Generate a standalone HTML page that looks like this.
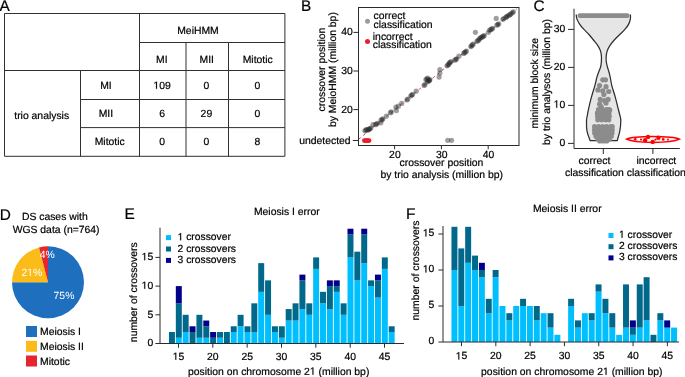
<!DOCTYPE html>
<html><head><meta charset="utf-8"><style>
html,body{margin:0;padding:0;background:#fff;}
body{width:685px;height:377px;overflow:hidden;}
svg{display:block;font-family:"Liberation Sans",sans-serif;will-change:transform;text-rendering:geometricPrecision;}
text{stroke-width:0.2px;}
</style></head><body>
<svg width="685" height="377" viewBox="0 0 685 377">
<rect width="685" height="377" fill="#fff"/>
<text x="-0.5" y="10.7" text-anchor="start" font-size="15.4" fill="#000" stroke="#000" >A</text>
<text x="301.0" y="10.8" text-anchor="start" font-size="15.4" fill="#000" stroke="#000" >B</text>
<text x="533.6" y="10.6" text-anchor="start" font-size="15.4" fill="#000" stroke="#000" >C</text>
<text x="-0.2" y="220.4" text-anchor="start" font-size="15.4" fill="#000" stroke="#000" >D</text>
<text x="124.6" y="219.1" text-anchor="start" font-size="15.4" fill="#000" stroke="#000" >E</text>
<text x="406.0" y="218.8" text-anchor="start" font-size="15.4" fill="#000" stroke="#000" >F</text>
<line x1="4.5" y1="13.5" x2="284.9" y2="13.5" stroke="#303030" stroke-width="1"/>
<line x1="4.5" y1="156.3" x2="284.9" y2="156.3" stroke="#303030" stroke-width="1"/>
<line x1="4.5" y1="13.5" x2="4.5" y2="156.3" stroke="#303030" stroke-width="1"/>
<line x1="284.9" y1="13.5" x2="284.9" y2="156.3" stroke="#303030" stroke-width="1"/>
<line x1="139.5" y1="42.5" x2="284.9" y2="42.5" stroke="#303030" stroke-width="1"/>
<line x1="4.5" y1="70.5" x2="284.9" y2="70.5" stroke="#303030" stroke-width="1"/>
<line x1="80.5" y1="99.5" x2="284.9" y2="99.5" stroke="#303030" stroke-width="1"/>
<line x1="80.5" y1="127.6" x2="284.9" y2="127.6" stroke="#303030" stroke-width="1"/>
<line x1="139.5" y1="13.5" x2="139.5" y2="156.3" stroke="#303030" stroke-width="1"/>
<line x1="80.5" y1="70.5" x2="80.5" y2="156.3" stroke="#303030" stroke-width="1"/>
<line x1="186.0" y1="42.5" x2="186.0" y2="156.3" stroke="#303030" stroke-width="1"/>
<line x1="228.5" y1="42.5" x2="228.5" y2="156.3" stroke="#303030" stroke-width="1"/>
<text x="198.0" y="33.85" text-anchor="middle" font-size="10.4" fill="#000" stroke="#000" >MeiHMM</text>
<text x="161.8" y="62.75" text-anchor="middle" font-size="10.4" fill="#000" stroke="#000" >MI</text>
<text x="206.8" y="62.75" text-anchor="middle" font-size="10.4" fill="#000" stroke="#000" >MII</text>
<text x="257.7" y="62.75" text-anchor="middle" font-size="10.4" fill="#000" stroke="#000" >Mitotic</text>
<text x="41.7" y="118.65" text-anchor="middle" font-size="10.4" fill="#000" stroke="#000" >trio analysis</text>
<text x="105.9" y="88.85" text-anchor="middle" font-size="10.4" fill="#000" stroke="#000" >MI</text>
<text x="162.1" y="88.85" text-anchor="middle" font-size="10.4" fill="#000" stroke="#000" > 09</text>
<text x="206.4" y="88.85" text-anchor="middle" font-size="10.4" fill="#000" stroke="#000" >0</text>
<text x="257.5" y="88.85" text-anchor="middle" font-size="10.4" fill="#000" stroke="#000" >0</text>
<text x="105.9" y="116.85" text-anchor="middle" font-size="10.4" fill="#000" stroke="#000" >MII</text>
<text x="162.1" y="116.85" text-anchor="middle" font-size="10.4" fill="#000" stroke="#000" >6</text>
<text x="206.4" y="116.85" text-anchor="middle" font-size="10.4" fill="#000" stroke="#000" >29</text>
<text x="257.5" y="116.85" text-anchor="middle" font-size="10.4" fill="#000" stroke="#000" >0</text>
<text x="109.7" y="145.25" text-anchor="middle" font-size="10.4" fill="#000" stroke="#000" >Mitotic</text>
<text x="162.1" y="145.25" text-anchor="middle" font-size="10.4" fill="#000" stroke="#000" >0</text>
<text x="206.4" y="145.25" text-anchor="middle" font-size="10.4" fill="#000" stroke="#000" >0</text>
<text x="257.5" y="145.25" text-anchor="middle" font-size="10.4" fill="#000" stroke="#000" >8</text>
<line x1="358.5" y1="139.37478632478633" x2="517.0" y2="8.64615384615388" stroke="#e0245a" stroke-width="1" stroke-dasharray="3 3" opacity="0.85"/>
<circle cx="364.9" cy="130.8" r="2.6" fill="#2a2a2a" fill-opacity="0.45"/>
<circle cx="365.8" cy="130.1" r="2.6" fill="#2a2a2a" fill-opacity="0.45"/>
<circle cx="366.7" cy="129.4" r="2.6" fill="#2a2a2a" fill-opacity="0.45"/>
<circle cx="367.7" cy="130.2" r="2.6" fill="#2a2a2a" fill-opacity="0.45"/>
<circle cx="368.6" cy="129.5" r="2.6" fill="#2a2a2a" fill-opacity="0.45"/>
<circle cx="369.5" cy="128.8" r="2.6" fill="#2a2a2a" fill-opacity="0.45"/>
<circle cx="369.9" cy="128.8" r="2.6" fill="#2a2a2a" fill-opacity="0.45"/>
<circle cx="370.8" cy="128.0" r="2.6" fill="#2a2a2a" fill-opacity="0.45"/>
<circle cx="373.0" cy="124.5" r="2.6" fill="#2a2a2a" fill-opacity="0.45"/>
<circle cx="375.5" cy="124.7" r="2.6" fill="#2a2a2a" fill-opacity="0.45"/>
<circle cx="376.4" cy="124.0" r="2.6" fill="#2a2a2a" fill-opacity="0.45"/>
<circle cx="377.3" cy="123.3" r="2.6" fill="#2a2a2a" fill-opacity="0.45"/>
<circle cx="380.8" cy="122.8" r="2.6" fill="#2a2a2a" fill-opacity="0.45"/>
<circle cx="381.1" cy="120.2" r="2.6" fill="#2a2a2a" fill-opacity="0.45"/>
<circle cx="382.0" cy="119.5" r="2.6" fill="#2a2a2a" fill-opacity="0.45"/>
<circle cx="382.9" cy="118.8" r="2.6" fill="#2a2a2a" fill-opacity="0.45"/>
<circle cx="386.4" cy="116.2" r="2.6" fill="#2a2a2a" fill-opacity="0.45"/>
<circle cx="390.4" cy="112.7" r="2.6" fill="#2a2a2a" fill-opacity="0.45"/>
<circle cx="391.3" cy="111.9" r="2.6" fill="#2a2a2a" fill-opacity="0.45"/>
<circle cx="395.9" cy="107.2" r="2.6" fill="#2a2a2a" fill-opacity="0.45"/>
<circle cx="396.4" cy="110.6" r="2.6" fill="#2a2a2a" fill-opacity="0.45"/>
<circle cx="398.4" cy="106.2" r="2.6" fill="#2a2a2a" fill-opacity="0.45"/>
<circle cx="401.7" cy="103.4" r="2.6" fill="#2a2a2a" fill-opacity="0.45"/>
<circle cx="406.9" cy="99.9" r="2.6" fill="#2a2a2a" fill-opacity="0.45"/>
<circle cx="407.8" cy="99.1" r="2.6" fill="#2a2a2a" fill-opacity="0.45"/>
<circle cx="410.8" cy="95.8" r="2.6" fill="#2a2a2a" fill-opacity="0.45"/>
<circle cx="411.7" cy="95.1" r="2.6" fill="#2a2a2a" fill-opacity="0.45"/>
<circle cx="412.6" cy="94.4" r="2.6" fill="#2a2a2a" fill-opacity="0.45"/>
<circle cx="416.2" cy="91.2" r="2.6" fill="#2a2a2a" fill-opacity="0.45"/>
<circle cx="424.1" cy="85.4" r="2.6" fill="#2a2a2a" fill-opacity="0.45"/>
<circle cx="424.9" cy="84.6" r="2.6" fill="#2a2a2a" fill-opacity="0.45"/>
<circle cx="425.9" cy="79.6" r="2.6" fill="#2a2a2a" fill-opacity="0.45"/>
<circle cx="426.8" cy="78.9" r="2.6" fill="#2a2a2a" fill-opacity="0.45"/>
<circle cx="427.7" cy="78.2" r="2.6" fill="#2a2a2a" fill-opacity="0.45"/>
<circle cx="427.5" cy="81.8" r="2.6" fill="#2a2a2a" fill-opacity="0.45"/>
<circle cx="428.4" cy="81.1" r="2.6" fill="#2a2a2a" fill-opacity="0.45"/>
<circle cx="429.3" cy="80.4" r="2.6" fill="#2a2a2a" fill-opacity="0.45"/>
<circle cx="429.1" cy="80.3" r="2.6" fill="#2a2a2a" fill-opacity="0.45"/>
<circle cx="429.9" cy="79.5" r="2.6" fill="#2a2a2a" fill-opacity="0.45"/>
<circle cx="439.9" cy="69.5" r="2.6" fill="#2a2a2a" fill-opacity="0.45"/>
<circle cx="439.9" cy="73.1" r="2.6" fill="#2a2a2a" fill-opacity="0.45"/>
<circle cx="439.1" cy="77.1" r="2.6" fill="#2a2a2a" fill-opacity="0.45"/>
<circle cx="447.0" cy="65.8" r="2.6" fill="#2a2a2a" fill-opacity="0.45"/>
<circle cx="447.9" cy="65.1" r="2.6" fill="#2a2a2a" fill-opacity="0.45"/>
<circle cx="448.8" cy="64.4" r="2.6" fill="#2a2a2a" fill-opacity="0.45"/>
<circle cx="449.2" cy="63.0" r="2.6" fill="#2a2a2a" fill-opacity="0.45"/>
<circle cx="450.1" cy="62.3" r="2.6" fill="#2a2a2a" fill-opacity="0.45"/>
<circle cx="451.0" cy="61.6" r="2.6" fill="#2a2a2a" fill-opacity="0.45"/>
<circle cx="454.8" cy="60.2" r="2.6" fill="#2a2a2a" fill-opacity="0.45"/>
<circle cx="455.7" cy="59.5" r="2.6" fill="#2a2a2a" fill-opacity="0.45"/>
<circle cx="456.6" cy="58.8" r="2.6" fill="#2a2a2a" fill-opacity="0.45"/>
<circle cx="458.9" cy="56.2" r="2.6" fill="#2a2a2a" fill-opacity="0.45"/>
<circle cx="463.6" cy="53.4" r="2.6" fill="#2a2a2a" fill-opacity="0.45"/>
<circle cx="464.6" cy="52.7" r="2.6" fill="#2a2a2a" fill-opacity="0.45"/>
<circle cx="465.4" cy="51.9" r="2.6" fill="#2a2a2a" fill-opacity="0.45"/>
<circle cx="466.4" cy="51.2" r="2.6" fill="#2a2a2a" fill-opacity="0.45"/>
<circle cx="470.8" cy="46.6" r="2.6" fill="#2a2a2a" fill-opacity="0.45"/>
<circle cx="471.6" cy="45.8" r="2.6" fill="#2a2a2a" fill-opacity="0.45"/>
<circle cx="472.4" cy="44.9" r="2.6" fill="#2a2a2a" fill-opacity="0.45"/>
<circle cx="473.2" cy="44.1" r="2.6" fill="#2a2a2a" fill-opacity="0.45"/>
<circle cx="475.4" cy="32.3" r="2.6" fill="#2a2a2a" fill-opacity="0.45"/>
<circle cx="477.0" cy="41.3" r="2.6" fill="#2a2a2a" fill-opacity="0.45"/>
<circle cx="477.9" cy="40.6" r="2.6" fill="#2a2a2a" fill-opacity="0.45"/>
<circle cx="478.8" cy="39.9" r="2.6" fill="#2a2a2a" fill-opacity="0.45"/>
<circle cx="479.7" cy="38.5" r="2.6" fill="#2a2a2a" fill-opacity="0.45"/>
<circle cx="480.6" cy="37.8" r="2.6" fill="#2a2a2a" fill-opacity="0.45"/>
<circle cx="481.5" cy="37.1" r="2.6" fill="#2a2a2a" fill-opacity="0.45"/>
<circle cx="482.5" cy="36.9" r="2.6" fill="#2a2a2a" fill-opacity="0.45"/>
<circle cx="483.4" cy="36.2" r="2.6" fill="#2a2a2a" fill-opacity="0.45"/>
<circle cx="484.3" cy="35.5" r="2.6" fill="#2a2a2a" fill-opacity="0.45"/>
<circle cx="488.4" cy="32.3" r="2.6" fill="#2a2a2a" fill-opacity="0.45"/>
<circle cx="489.6" cy="30.0" r="2.6" fill="#2a2a2a" fill-opacity="0.45"/>
<circle cx="490.8" cy="29.7" r="2.6" fill="#2a2a2a" fill-opacity="0.45"/>
<circle cx="491.7" cy="29.0" r="2.6" fill="#2a2a2a" fill-opacity="0.45"/>
<circle cx="492.6" cy="28.3" r="2.6" fill="#2a2a2a" fill-opacity="0.45"/>
<circle cx="496.2" cy="18.4" r="2.6" fill="#2a2a2a" fill-opacity="0.45"/>
<circle cx="496.9" cy="25.2" r="2.6" fill="#2a2a2a" fill-opacity="0.45"/>
<circle cx="497.8" cy="24.5" r="2.6" fill="#2a2a2a" fill-opacity="0.45"/>
<circle cx="498.7" cy="23.8" r="2.6" fill="#2a2a2a" fill-opacity="0.45"/>
<circle cx="502.9" cy="19.3" r="2.6" fill="#2a2a2a" fill-opacity="0.45"/>
<circle cx="503.8" cy="18.5" r="2.6" fill="#2a2a2a" fill-opacity="0.45"/>
<circle cx="505.8" cy="17.4" r="2.6" fill="#2a2a2a" fill-opacity="0.45"/>
<circle cx="506.7" cy="16.7" r="2.6" fill="#2a2a2a" fill-opacity="0.45"/>
<circle cx="507.6" cy="16.0" r="2.6" fill="#2a2a2a" fill-opacity="0.45"/>
<circle cx="509.2" cy="15.2" r="2.6" fill="#2a2a2a" fill-opacity="0.45"/>
<circle cx="510.1" cy="14.5" r="2.6" fill="#2a2a2a" fill-opacity="0.45"/>
<circle cx="511.0" cy="13.8" r="2.6" fill="#2a2a2a" fill-opacity="0.45"/>
<circle cx="512.4" cy="12.6" r="2.6" fill="#2a2a2a" fill-opacity="0.45"/>
<circle cx="513.4" cy="11.8" r="2.6" fill="#2a2a2a" fill-opacity="0.45"/>
<circle cx="447.7" cy="140.3" r="2.6" fill="#2a2a2a" fill-opacity="0.45"/>
<circle cx="451.5" cy="140.3" r="2.6" fill="#2a2a2a" fill-opacity="0.45"/>
<circle cx="364.4" cy="140.6" r="2.4" fill="#e8202a"/>
<circle cx="365.6" cy="140.6" r="2.4" fill="#e8202a"/>
<circle cx="366.7" cy="140.6" r="2.4" fill="#e8202a"/>
<circle cx="367.8" cy="140.6" r="2.4" fill="#e8202a"/>
<circle cx="369.0" cy="140.6" r="2.4" fill="#e8202a"/>
<rect x="358.5" y="7.5" width="160.5" height="138.0" fill="none" stroke="#2b2b2b" stroke-width="1"/>
<line x1="353.4" y1="32.39999999999999" x2="358.5" y2="32.39999999999999" stroke="#2b2b2b" stroke-width="1"/>
<text x="352.7" y="35.35" text-anchor="end" font-size="10.4" fill="#000" stroke="#000" >40</text>
<line x1="353.4" y1="71.0" x2="358.5" y2="71.0" stroke="#2b2b2b" stroke-width="1"/>
<text x="352.7" y="73.95" text-anchor="end" font-size="10.4" fill="#000" stroke="#000" >30</text>
<line x1="353.4" y1="109.6" x2="358.5" y2="109.6" stroke="#2b2b2b" stroke-width="1"/>
<text x="352.7" y="112.55" text-anchor="end" font-size="10.4" fill="#000" stroke="#000" >20</text>
<line x1="352.8" y1="140.5" x2="358.5" y2="140.5" stroke="#2b2b2b" stroke-width="1"/>
<text x="350.6" y="143.95" text-anchor="end" font-size="10.4" fill="#000" stroke="#000" >undetected</text>
<line x1="394.6" y1="145.5" x2="394.6" y2="149.3" stroke="#2b2b2b" stroke-width="1"/>
<text x="394.90000000000003" y="157.85" text-anchor="middle" font-size="10.4" fill="#000" stroke="#000" >20</text>
<line x1="441.40000000000003" y1="145.5" x2="441.40000000000003" y2="149.3" stroke="#2b2b2b" stroke-width="1"/>
<text x="441.70000000000005" y="157.85" text-anchor="middle" font-size="10.4" fill="#000" stroke="#000" >30</text>
<line x1="488.20000000000005" y1="145.5" x2="488.20000000000005" y2="149.3" stroke="#2b2b2b" stroke-width="1"/>
<text x="488.50000000000006" y="157.85" text-anchor="middle" font-size="10.4" fill="#000" stroke="#000" >40</text>
<text x="441.4" y="166.15" text-anchor="middle" font-size="10.4" fill="#000" stroke="#000" >crossover position</text>
<text x="441.7" y="178.05" text-anchor="middle" font-size="10.4" fill="#000" stroke="#000" >by trio analysis (million bp)</text>
<text transform="translate(324.7,69.6) rotate(-90)" text-anchor="middle" font-size="10.4" fill="#000" stroke="#000">crossover position</text>
<text transform="translate(336.1,69.6) rotate(-90)" text-anchor="middle" font-size="10.4" fill="#000" stroke="#000">by MeioHMM (million bp)</text>
<circle cx="367.5" cy="21.2" r="2.5" fill="#9a9a9a"/>
<circle cx="367.5" cy="41.5" r="2.5" fill="#e8202a"/>
<text x="373.6" y="19.05" text-anchor="start" font-size="10.4" fill="#000" stroke="#000" >correct</text>
<text x="373.6" y="27.85" text-anchor="start" font-size="10.4" fill="#000" stroke="#000" >classification</text>
<text x="372.8" y="39.75" text-anchor="start" font-size="10.4" fill="#000" stroke="#000" >incorrect</text>
<text x="372.8" y="48.15" text-anchor="start" font-size="10.4" fill="#000" stroke="#000" >classification</text>
<path d="M576.2,14.5 C576.30,15.18 576.27,17.03 576.80,18.60 C577.33,20.17 578.25,22.13 579.40,23.90 C580.55,25.67 582.10,27.43 583.70,29.20 C585.30,30.97 587.37,32.70 589.00,34.50 C590.63,36.30 592.05,38.20 593.50,40.00 C594.95,41.80 596.55,43.53 597.70,45.30 C598.85,47.07 599.78,48.83 600.40,50.60 C601.02,52.37 601.23,54.13 601.40,55.90 C601.57,57.67 601.52,59.43 601.40,61.20 C601.28,62.97 601.13,64.73 600.70,66.50 C600.27,68.27 599.43,70.03 598.80,71.80 C598.17,73.57 597.55,74.80 596.90,77.10 C596.25,79.40 595.77,82.42 594.90,85.60 C594.03,88.78 592.68,92.67 591.70,96.20 C590.72,99.73 589.72,103.67 589.00,106.80 C588.28,109.93 587.82,112.70 587.40,115.00 C586.98,117.30 586.57,117.90 586.50,120.60 C586.43,123.30 586.40,127.88 587.00,131.20 C587.60,134.52 589.58,138.95 590.10,140.50 L617.2,140.5 C617.63,138.95 619.20,134.52 619.80,131.20 C620.40,127.88 620.80,123.30 620.80,120.60 C620.80,117.90 620.32,117.30 619.80,115.00 C619.28,112.70 618.50,109.93 617.70,106.80 C616.90,103.67 615.98,99.73 615.00,96.20 C614.02,92.67 612.60,88.78 611.80,85.60 C611.00,82.42 610.68,79.40 610.20,77.10 C609.72,74.80 609.38,73.57 608.90,71.80 C608.42,70.03 607.75,68.27 607.30,66.50 C606.85,64.73 606.38,62.97 606.20,61.20 C606.02,59.43 606.02,57.67 606.20,55.90 C606.38,54.13 606.67,52.37 607.30,50.60 C607.93,48.83 608.83,47.07 610.00,45.30 C611.17,43.53 612.67,41.80 614.30,40.00 C615.93,38.20 618.00,36.30 619.80,34.50 C621.60,32.70 623.60,30.97 625.10,29.20 C626.60,27.43 627.92,25.67 628.80,23.90 C629.68,22.13 630.13,20.17 630.40,18.60 C630.67,17.03 630.40,15.18 630.40,14.50 Z" fill="#e6e6e6" stroke="none"/>
<path d="M576.2,14.5 C576.30,15.18 576.27,17.03 576.80,18.60 C577.33,20.17 578.25,22.13 579.40,23.90 C580.55,25.67 582.10,27.43 583.70,29.20 C585.30,30.97 587.37,32.70 589.00,34.50 C590.63,36.30 592.05,38.20 593.50,40.00 C594.95,41.80 596.55,43.53 597.70,45.30 C598.85,47.07 599.78,48.83 600.40,50.60 C601.02,52.37 601.23,54.13 601.40,55.90 C601.57,57.67 601.52,59.43 601.40,61.20 C601.28,62.97 601.13,64.73 600.70,66.50 C600.27,68.27 599.43,70.03 598.80,71.80 C598.17,73.57 597.55,74.80 596.90,77.10 C596.25,79.40 595.77,82.42 594.90,85.60 C594.03,88.78 592.68,92.67 591.70,96.20 C590.72,99.73 589.72,103.67 589.00,106.80 C588.28,109.93 587.82,112.70 587.40,115.00 C586.98,117.30 586.57,117.90 586.50,120.60 C586.43,123.30 586.40,127.88 587.00,131.20 C587.60,134.52 589.58,138.95 590.10,140.50 L617.2,140.5 C617.63,138.95 619.20,134.52 619.80,131.20 C620.40,127.88 620.80,123.30 620.80,120.60 C620.80,117.90 620.32,117.30 619.80,115.00 C619.28,112.70 618.50,109.93 617.70,106.80 C616.90,103.67 615.98,99.73 615.00,96.20 C614.02,92.67 612.60,88.78 611.80,85.60 C611.00,82.42 610.68,79.40 610.20,77.10 C609.72,74.80 609.38,73.57 608.90,71.80 C608.42,70.03 607.75,68.27 607.30,66.50 C606.85,64.73 606.38,62.97 606.20,61.20 C606.02,59.43 606.02,57.67 606.20,55.90 C606.38,54.13 606.67,52.37 607.30,50.60 C607.93,48.83 608.83,47.07 610.00,45.30 C611.17,43.53 612.67,41.80 614.30,40.00 C615.93,38.20 618.00,36.30 619.80,34.50 C621.60,32.70 623.60,30.97 625.10,29.20 C626.60,27.43 627.92,25.67 628.80,23.90 C629.68,22.13 630.13,20.17 630.40,18.60 C630.67,17.03 630.40,15.18 630.40,14.50" fill="none" stroke="#2e2e2e" stroke-width="1.25"/>
<rect x="577.6" y="13.3" width="51.9" height="4.7" rx="2.3" fill="#8c8c8c"/>
<circle cx="602.8" cy="79.8" r="2.6" fill="#8c8c8c"/>
<circle cx="605.5" cy="79.8" r="2.6" fill="#8c8c8c"/>
<circle cx="599.6" cy="85.6" r="2.6" fill="#8c8c8c"/>
<circle cx="606" cy="86.7" r="2.6" fill="#8c8c8c"/>
<circle cx="598" cy="89.9" r="2.6" fill="#8c8c8c"/>
<circle cx="602.8" cy="90.9" r="2.6" fill="#8c8c8c"/>
<circle cx="608.7" cy="91.5" r="2.6" fill="#8c8c8c"/>
<circle cx="603.9" cy="94.6" r="2.6" fill="#8c8c8c"/>
<circle cx="600.2" cy="99.4" r="2.6" fill="#8c8c8c"/>
<circle cx="608.1" cy="99.4" r="2.6" fill="#8c8c8c"/>
<circle cx="604.4" cy="100.5" r="2.6" fill="#8c8c8c"/>
<circle cx="599.6" cy="104.2" r="2.6" fill="#8c8c8c"/>
<circle cx="606" cy="103.1" r="2.6" fill="#8c8c8c"/>
<circle cx="601.2" cy="106.8" r="2.6" fill="#8c8c8c"/>
<circle cx="598.6" cy="110" r="2.6" fill="#8c8c8c"/>
<circle cx="609.7" cy="110" r="2.6" fill="#8c8c8c"/>
<circle cx="603.4" cy="110" r="2.6" fill="#8c8c8c"/>
<circle cx="597.5" cy="113.2" r="2.6" fill="#8c8c8c"/>
<circle cx="606.5" cy="112.7" r="2.6" fill="#8c8c8c"/>
<circle cx="598.5" cy="109.5" r="2.6" fill="#8c8c8c"/>
<circle cx="602.5" cy="109.5" r="2.6" fill="#8c8c8c"/>
<circle cx="606.5" cy="109.5" r="2.6" fill="#8c8c8c"/>
<circle cx="609" cy="109.5" r="2.6" fill="#8c8c8c"/>
<circle cx="597.5" cy="113" r="2.6" fill="#8c8c8c"/>
<circle cx="601.5" cy="113" r="2.6" fill="#8c8c8c"/>
<circle cx="605.5" cy="113" r="2.6" fill="#8c8c8c"/>
<circle cx="609" cy="113" r="2.6" fill="#8c8c8c"/>
<circle cx="597.6" cy="116.3" r="2.6" fill="#8c8c8c"/>
<circle cx="601.6" cy="116.3" r="2.6" fill="#8c8c8c"/>
<circle cx="605.6" cy="116.3" r="2.6" fill="#8c8c8c"/>
<circle cx="609.2" cy="116.3" r="2.6" fill="#8c8c8c"/>
<circle cx="597.8" cy="119.8" r="2.6" fill="#8c8c8c"/>
<circle cx="601.8" cy="119.8" r="2.6" fill="#8c8c8c"/>
<circle cx="605.8" cy="119.8" r="2.6" fill="#8c8c8c"/>
<circle cx="608.8" cy="119.8" r="2.6" fill="#8c8c8c"/>
<circle cx="594.6" cy="126.6" r="2.6" fill="#8c8c8c"/>
<circle cx="598.6" cy="126.6" r="2.6" fill="#8c8c8c"/>
<circle cx="602.6" cy="126.6" r="2.6" fill="#8c8c8c"/>
<circle cx="606.6" cy="126.6" r="2.6" fill="#8c8c8c"/>
<circle cx="610.6" cy="126.6" r="2.6" fill="#8c8c8c"/>
<circle cx="612.2" cy="126.6" r="2.6" fill="#8c8c8c"/>
<circle cx="594.5" cy="129.8" r="2.6" fill="#8c8c8c"/>
<circle cx="598.5" cy="129.8" r="2.6" fill="#8c8c8c"/>
<circle cx="602.5" cy="129.8" r="2.6" fill="#8c8c8c"/>
<circle cx="606.5" cy="129.8" r="2.6" fill="#8c8c8c"/>
<circle cx="610.5" cy="129.8" r="2.6" fill="#8c8c8c"/>
<circle cx="612.2" cy="129.8" r="2.6" fill="#8c8c8c"/>
<circle cx="594.7" cy="133" r="2.6" fill="#8c8c8c"/>
<circle cx="598.5" cy="133" r="2.6" fill="#8c8c8c"/>
<circle cx="602.5" cy="133" r="2.6" fill="#8c8c8c"/>
<circle cx="606.5" cy="133" r="2.6" fill="#8c8c8c"/>
<circle cx="610.5" cy="133" r="2.6" fill="#8c8c8c"/>
<circle cx="612.0" cy="133" r="2.6" fill="#8c8c8c"/>
<circle cx="596" cy="136.2" r="2.6" fill="#8c8c8c"/>
<circle cx="600" cy="136.2" r="2.6" fill="#8c8c8c"/>
<circle cx="604" cy="136.2" r="2.6" fill="#8c8c8c"/>
<circle cx="608" cy="136.2" r="2.6" fill="#8c8c8c"/>
<circle cx="611.2" cy="136.2" r="2.6" fill="#8c8c8c"/>
<circle cx="598" cy="139.2" r="2.6" fill="#8c8c8c"/>
<circle cx="602" cy="139.2" r="2.6" fill="#8c8c8c"/>
<circle cx="606" cy="139.2" r="2.6" fill="#8c8c8c"/>
<circle cx="609.3" cy="139.2" r="2.6" fill="#8c8c8c"/>
<circle cx="599.8" cy="141.0" r="2.6" fill="#8c8c8c"/>
<circle cx="603.2" cy="141.0" r="2.6" fill="#8c8c8c"/>
<circle cx="606.7" cy="141.0" r="2.6" fill="#8c8c8c"/>
<path d="M626.5,139.2 C631.5,136.9 640,136.6 652.9,136.6 C666,136.6 674.5,136.9 679.5,139.2 C674.5,141.7 666,142.4 652.9,142.4 C640,142.4 631.5,141.7 626.5,139.2 Z" fill="#fff4f4" stroke="#f00" stroke-width="1.5"/>
<circle cx="648" cy="136.9" r="2.2" fill="#f00"/>
<circle cx="645.1" cy="140.2" r="2.2" fill="#f00"/>
<circle cx="652.7" cy="141.9" r="2.2" fill="#f00"/>
<circle cx="658.4" cy="137.8" r="2.2" fill="#f00"/>
<circle cx="635.2" cy="139.2" r="1.3" fill="#f00"/>
<circle cx="663.2" cy="139.4" r="1.4" fill="#f00"/>
<circle cx="641" cy="139.5" r="1.1" fill="#f00"/>
<circle cx="655.5" cy="139.6" r="1.1" fill="#f00"/>
<circle cx="668" cy="139.6" r="1.0" fill="#f00"/>
<line x1="574.0" y1="8.7" x2="574.0" y2="148.5" stroke="#2b2b2b" stroke-width="1"/>
<line x1="574.0" y1="148.5" x2="679.8" y2="148.5" stroke="#2b2b2b" stroke-width="1"/>
<line x1="568.0" y1="143.4" x2="574.0" y2="143.4" stroke="#2b2b2b" stroke-width="1"/>
<text x="565.2" y="145.65" text-anchor="end" font-size="10.4" fill="#000" stroke="#000" >0</text>
<line x1="568.0" y1="105.4" x2="574.0" y2="105.4" stroke="#2b2b2b" stroke-width="1"/>
<text x="565.2" y="107.65" text-anchor="end" font-size="10.4" fill="#000" stroke="#000" > 0</text>
<line x1="568.0" y1="67.4" x2="574.0" y2="67.4" stroke="#2b2b2b" stroke-width="1"/>
<text x="565.2" y="69.65" text-anchor="end" font-size="10.4" fill="#000" stroke="#000" >20</text>
<line x1="568.0" y1="29.400000000000006" x2="574.0" y2="29.400000000000006" stroke="#2b2b2b" stroke-width="1"/>
<text x="565.2" y="31.65" text-anchor="end" font-size="10.4" fill="#000" stroke="#000" >30</text>
<line x1="603.3" y1="148.5" x2="603.3" y2="154.0" stroke="#2b2b2b" stroke-width="1"/>
<line x1="652.9" y1="148.5" x2="652.9" y2="154.0" stroke="#2b2b2b" stroke-width="1"/>
<text x="594.4" y="163.95" text-anchor="middle" font-size="10.4" fill="#000" stroke="#000" >correct</text>
<text x="594.4" y="175.65" text-anchor="middle" font-size="10.4" fill="#000" stroke="#000" >classification</text>
<text x="656.3" y="163.95" text-anchor="middle" font-size="10.4" fill="#000" stroke="#000" >incorrect</text>
<text x="656.3" y="175.65" text-anchor="middle" font-size="10.4" fill="#000" stroke="#000" >classification</text>
<text transform="translate(537.6,83.2) rotate(-90)" text-anchor="middle" font-size="10.4" fill="#000" stroke="#000">minimum block size</text>
<text transform="translate(550.1,82.0) rotate(-90)" text-anchor="middle" font-size="10.4" fill="#000" stroke="#000">by trio analysos (million bp)</text>
<text x="54.8" y="220.35" text-anchor="middle" font-size="10.4" fill="#000" stroke="#000" >DS cases with</text>
<text x="56.1" y="232.75" text-anchor="middle" font-size="10.4" fill="#000" stroke="#000" >WGS data (n=764)</text>
<path d="M48.0,282.3 L48.00,246.30 A36.0,36.0 0 1 1 12.00,282.30 Z" fill="#1e6fbd"/>
<path d="M48.0,282.3 L12.00,282.30 A36.0,36.0 0 0 1 39.05,247.43 Z" fill="#fbbc1a"/>
<path d="M48.0,282.3 L39.05,247.43 A36.0,36.0 0 0 1 48.00,246.30 Z" fill="#e5262c"/>
<text x="47.3" y="257.55" text-anchor="middle" font-size="10.4" fill="#fff" >4%</text>
<text x="31.8" y="275.95" text-anchor="middle" font-size="10.4" fill="#fff" >2 %</text>
<text x="64.0" y="298.75" text-anchor="middle" font-size="10.4" fill="#fff" >75%</text>
<rect x="26" y="326.0" width="11" height="11" fill="#1e6fbd"/>
<text x="40.0" y="335.15" text-anchor="start" font-size="10.4" fill="#000" stroke="#000" >Meiosis I</text>
<rect x="26" y="340.8" width="11" height="11" fill="#fbbc1a"/>
<text x="40.0" y="349.95" text-anchor="start" font-size="10.4" fill="#000" stroke="#000" >Meiosis II</text>
<rect x="26" y="355.5" width="11" height="11" fill="#e5262c"/>
<text x="40.0" y="364.65" text-anchor="start" font-size="10.4" fill="#000" stroke="#000" >Mitotic</text>
<rect x="168.95" y="332.02" width="5.97" height="11.48" fill="#00688b"/>
<rect x="175.82" y="337.76" width="5.97" height="5.74" fill="#00bfff"/>
<rect x="175.82" y="303.32" width="5.97" height="34.44" fill="#00688b"/>
<rect x="175.82" y="286.10" width="5.97" height="17.22" fill="#00008b"/>
<rect x="182.68" y="332.02" width="5.97" height="11.48" fill="#00bfff"/>
<rect x="182.68" y="314.80" width="5.97" height="17.22" fill="#00688b"/>
<rect x="189.55" y="332.02" width="5.97" height="11.48" fill="#00688b"/>
<rect x="189.55" y="326.28" width="5.97" height="5.74" fill="#00008b"/>
<rect x="196.42" y="337.76" width="5.97" height="5.74" fill="#00bfff"/>
<rect x="196.42" y="314.80" width="5.97" height="22.96" fill="#00688b"/>
<rect x="203.28" y="337.76" width="5.97" height="5.74" fill="#00bfff"/>
<rect x="203.28" y="326.28" width="5.97" height="11.48" fill="#00688b"/>
<rect x="203.28" y="320.54" width="5.97" height="5.74" fill="#00008b"/>
<rect x="210.15" y="337.76" width="5.97" height="5.74" fill="#00688b"/>
<rect x="210.15" y="332.02" width="5.97" height="5.74" fill="#00008b"/>
<rect x="217.02" y="337.76" width="5.97" height="5.74" fill="#00bfff"/>
<rect x="217.02" y="332.02" width="5.97" height="5.74" fill="#00688b"/>
<rect x="223.89" y="332.02" width="5.97" height="11.48" fill="#00688b"/>
<rect x="230.75" y="332.02" width="5.97" height="11.48" fill="#00bfff"/>
<rect x="230.75" y="326.28" width="5.97" height="5.74" fill="#00688b"/>
<rect x="237.62" y="326.28" width="5.97" height="17.22" fill="#00bfff"/>
<rect x="237.62" y="314.80" width="5.97" height="11.48" fill="#00688b"/>
<rect x="244.49" y="332.02" width="5.97" height="11.48" fill="#00bfff"/>
<rect x="244.49" y="326.28" width="5.97" height="5.74" fill="#00688b"/>
<rect x="251.35" y="332.02" width="5.97" height="11.48" fill="#00bfff"/>
<rect x="251.35" y="303.32" width="5.97" height="28.70" fill="#00688b"/>
<rect x="258.22" y="291.84" width="5.97" height="51.66" fill="#00bfff"/>
<rect x="258.22" y="263.14" width="5.97" height="28.70" fill="#00688b"/>
<rect x="265.09" y="314.80" width="5.97" height="28.70" fill="#00bfff"/>
<rect x="265.09" y="280.36" width="5.97" height="34.44" fill="#00688b"/>
<rect x="271.95" y="332.02" width="5.97" height="11.48" fill="#00bfff"/>
<rect x="271.95" y="326.28" width="5.97" height="5.74" fill="#00688b"/>
<rect x="278.82" y="337.76" width="5.97" height="5.74" fill="#00bfff"/>
<rect x="278.82" y="326.28" width="5.97" height="11.48" fill="#00688b"/>
<rect x="285.69" y="320.54" width="5.97" height="22.96" fill="#00bfff"/>
<rect x="285.69" y="309.06" width="5.97" height="11.48" fill="#00688b"/>
<rect x="292.56" y="320.54" width="5.97" height="22.96" fill="#00bfff"/>
<rect x="292.56" y="303.32" width="5.97" height="17.22" fill="#00688b"/>
<rect x="299.42" y="309.06" width="5.97" height="34.44" fill="#00bfff"/>
<rect x="299.42" y="280.36" width="5.97" height="28.70" fill="#00688b"/>
<rect x="299.42" y="274.62" width="5.97" height="5.74" fill="#00008b"/>
<rect x="306.29" y="314.80" width="5.97" height="28.70" fill="#00bfff"/>
<rect x="306.29" y="303.32" width="5.97" height="11.48" fill="#00688b"/>
<rect x="313.16" y="268.88" width="5.97" height="74.62" fill="#00bfff"/>
<rect x="313.16" y="257.40" width="5.97" height="11.48" fill="#00688b"/>
<rect x="320.02" y="303.32" width="5.97" height="40.18" fill="#00bfff"/>
<rect x="320.02" y="291.84" width="5.97" height="11.48" fill="#00688b"/>
<rect x="326.89" y="309.06" width="5.97" height="34.44" fill="#00bfff"/>
<rect x="326.89" y="286.10" width="5.97" height="22.96" fill="#00688b"/>
<rect x="326.89" y="280.36" width="5.97" height="5.74" fill="#00008b"/>
<rect x="333.76" y="291.84" width="5.97" height="51.66" fill="#00bfff"/>
<rect x="333.76" y="286.10" width="5.97" height="5.74" fill="#00688b"/>
<rect x="333.76" y="280.36" width="5.97" height="5.74" fill="#00008b"/>
<rect x="340.62" y="314.80" width="5.97" height="28.70" fill="#00bfff"/>
<rect x="340.62" y="303.32" width="5.97" height="11.48" fill="#00688b"/>
<rect x="347.49" y="257.40" width="5.97" height="86.10" fill="#00bfff"/>
<rect x="347.49" y="234.44" width="5.97" height="22.96" fill="#00688b"/>
<rect x="347.49" y="228.70" width="5.97" height="5.74" fill="#00008b"/>
<rect x="354.36" y="280.36" width="5.97" height="63.14" fill="#00bfff"/>
<rect x="354.36" y="251.66" width="5.97" height="28.70" fill="#00688b"/>
<rect x="361.23" y="263.14" width="5.97" height="80.36" fill="#00bfff"/>
<rect x="361.23" y="234.44" width="5.97" height="28.70" fill="#00688b"/>
<rect x="361.23" y="228.70" width="5.97" height="5.74" fill="#00008b"/>
<rect x="368.09" y="286.10" width="5.97" height="57.40" fill="#00bfff"/>
<rect x="368.09" y="280.36" width="5.97" height="5.74" fill="#00688b"/>
<rect x="374.96" y="297.58" width="5.97" height="45.92" fill="#00bfff"/>
<rect x="374.96" y="280.36" width="5.97" height="17.22" fill="#00688b"/>
<rect x="374.96" y="274.62" width="5.97" height="5.74" fill="#00008b"/>
<rect x="381.83" y="268.88" width="5.97" height="74.62" fill="#00bfff"/>
<rect x="381.83" y="257.40" width="5.97" height="11.48" fill="#00688b"/>
<rect x="388.69" y="332.02" width="5.97" height="11.48" fill="#00bfff"/>
<rect x="388.69" y="326.28" width="5.97" height="5.74" fill="#00688b"/>
<line x1="160.0" y1="227.7" x2="160.0" y2="343.5" stroke="#2b2b2b" stroke-width="1"/>
<line x1="155.4" y1="343.5" x2="404.0" y2="343.5" stroke="#2b2b2b" stroke-width="1"/>
<line x1="155.4" y1="314.8" x2="160.0" y2="314.8" stroke="#2b2b2b" stroke-width="1"/>
<line x1="155.4" y1="286.1" x2="160.0" y2="286.1" stroke="#2b2b2b" stroke-width="1"/>
<line x1="155.4" y1="257.4" x2="160.0" y2="257.4" stroke="#2b2b2b" stroke-width="1"/>
<text x="153.2" y="346.25" text-anchor="end" font-size="10.4" fill="#000" stroke="#000" >0</text>
<text x="153.2" y="317.55" text-anchor="end" font-size="10.4" fill="#000" stroke="#000" >5</text>
<text x="153.2" y="288.85" text-anchor="end" font-size="10.4" fill="#000" stroke="#000" > 0</text>
<text x="153.2" y="260.15" text-anchor="end" font-size="10.4" fill="#000" stroke="#000" > 5</text>
<line x1="178.5" y1="343.5" x2="178.5" y2="347.7" stroke="#2b2b2b" stroke-width="1"/>
<text x="178.5" y="359.85" text-anchor="middle" font-size="10.4" fill="#000" stroke="#000" > 5</text>
<line x1="212.835" y1="343.5" x2="212.835" y2="347.7" stroke="#2b2b2b" stroke-width="1"/>
<text x="212.835" y="359.85" text-anchor="middle" font-size="10.4" fill="#000" stroke="#000" >20</text>
<line x1="247.17000000000002" y1="343.5" x2="247.17000000000002" y2="347.7" stroke="#2b2b2b" stroke-width="1"/>
<text x="247.17000000000002" y="359.85" text-anchor="middle" font-size="10.4" fill="#000" stroke="#000" >25</text>
<line x1="281.505" y1="343.5" x2="281.505" y2="347.7" stroke="#2b2b2b" stroke-width="1"/>
<text x="281.505" y="359.85" text-anchor="middle" font-size="10.4" fill="#000" stroke="#000" >30</text>
<line x1="315.84000000000003" y1="343.5" x2="315.84000000000003" y2="347.7" stroke="#2b2b2b" stroke-width="1"/>
<text x="315.84000000000003" y="359.85" text-anchor="middle" font-size="10.4" fill="#000" stroke="#000" >35</text>
<line x1="350.175" y1="343.5" x2="350.175" y2="347.7" stroke="#2b2b2b" stroke-width="1"/>
<text x="350.175" y="359.85" text-anchor="middle" font-size="10.4" fill="#000" stroke="#000" >40</text>
<line x1="384.51" y1="343.5" x2="384.51" y2="347.7" stroke="#2b2b2b" stroke-width="1"/>
<text x="384.51" y="359.85" text-anchor="middle" font-size="10.4" fill="#000" stroke="#000" >45</text>
<text x="253.9" y="214.55" text-anchor="start" font-size="10.4" fill="#000" stroke="#000" >Meiosis I error</text>
<rect x="166.0" y="235.10" width="5" height="5" fill="#00bfff"/>
<text x="177.6" y="240.35" text-anchor="start" font-size="10.3" fill="#000" stroke="#000" >  crossover</text>
<rect x="166.0" y="246.50" width="5" height="5" fill="#00688b"/>
<text x="177.6" y="251.75" text-anchor="start" font-size="10.3" fill="#000" stroke="#000" >2 crossovers</text>
<rect x="166.0" y="257.90" width="5" height="5" fill="#00008b"/>
<text x="177.6" y="263.15" text-anchor="start" font-size="10.3" fill="#000" stroke="#000" >3 crossovers</text>
<text transform="translate(137.3,292.2) rotate(-90)" text-anchor="middle" font-size="10.4" fill="#000" stroke="#000">number of crossovers</text>
<text x="188.0" y="374.65" text-anchor="start" font-size="10.4" fill="#000" stroke="#000" >position on chromosome 2  (million bp)</text>
<rect x="451.46" y="270.00" width="5.96" height="72.00" fill="#00bfff"/>
<rect x="451.46" y="226.80" width="5.96" height="43.20" fill="#00688b"/>
<rect x="458.32" y="306.00" width="5.96" height="36.00" fill="#00bfff"/>
<rect x="458.32" y="248.40" width="5.96" height="57.60" fill="#00688b"/>
<rect x="465.18" y="262.80" width="5.96" height="79.20" fill="#00bfff"/>
<rect x="465.18" y="226.80" width="5.96" height="36.00" fill="#00688b"/>
<rect x="472.04" y="270.00" width="5.96" height="72.00" fill="#00bfff"/>
<rect x="472.04" y="255.60" width="5.96" height="14.40" fill="#00688b"/>
<rect x="478.91" y="277.20" width="5.96" height="64.80" fill="#00bfff"/>
<rect x="478.91" y="270.00" width="5.96" height="7.20" fill="#00688b"/>
<rect x="478.91" y="262.80" width="5.96" height="7.20" fill="#00008b"/>
<rect x="485.77" y="313.20" width="5.96" height="28.80" fill="#00bfff"/>
<rect x="485.77" y="298.80" width="5.96" height="14.40" fill="#00688b"/>
<rect x="492.63" y="277.20" width="5.96" height="64.80" fill="#00bfff"/>
<rect x="492.63" y="270.00" width="5.96" height="7.20" fill="#00688b"/>
<rect x="499.50" y="306.00" width="5.96" height="36.00" fill="#00bfff"/>
<rect x="506.36" y="320.40" width="5.96" height="21.60" fill="#00bfff"/>
<rect x="506.36" y="313.20" width="5.96" height="7.20" fill="#00688b"/>
<rect x="513.22" y="306.00" width="5.96" height="36.00" fill="#00bfff"/>
<rect x="520.09" y="306.00" width="5.96" height="36.00" fill="#00bfff"/>
<rect x="520.09" y="298.80" width="5.96" height="7.20" fill="#00688b"/>
<rect x="526.95" y="306.00" width="5.96" height="36.00" fill="#00bfff"/>
<rect x="533.81" y="320.40" width="5.96" height="21.60" fill="#00bfff"/>
<rect x="533.81" y="306.00" width="5.96" height="14.40" fill="#00688b"/>
<rect x="540.67" y="313.20" width="5.96" height="28.80" fill="#00bfff"/>
<rect x="547.54" y="327.60" width="5.96" height="14.40" fill="#00bfff"/>
<rect x="547.54" y="313.20" width="5.96" height="14.40" fill="#00688b"/>
<rect x="554.40" y="334.80" width="5.96" height="7.20" fill="#00bfff"/>
<rect x="568.13" y="306.00" width="5.96" height="36.00" fill="#00bfff"/>
<rect x="568.13" y="298.80" width="5.96" height="7.20" fill="#00688b"/>
<rect x="574.99" y="327.60" width="5.96" height="14.40" fill="#00bfff"/>
<rect x="574.99" y="320.40" width="5.96" height="7.20" fill="#00688b"/>
<rect x="581.85" y="313.20" width="5.96" height="28.80" fill="#00bfff"/>
<rect x="588.72" y="320.40" width="5.96" height="21.60" fill="#00bfff"/>
<rect x="588.72" y="313.20" width="5.96" height="7.20" fill="#00688b"/>
<rect x="595.58" y="291.60" width="5.96" height="50.40" fill="#00bfff"/>
<rect x="595.58" y="284.40" width="5.96" height="7.20" fill="#00688b"/>
<rect x="602.44" y="313.20" width="5.96" height="28.80" fill="#00bfff"/>
<rect x="602.44" y="298.80" width="5.96" height="14.40" fill="#00688b"/>
<rect x="609.30" y="327.60" width="5.96" height="14.40" fill="#00bfff"/>
<rect x="609.30" y="313.20" width="5.96" height="14.40" fill="#00688b"/>
<rect x="616.17" y="334.80" width="5.96" height="7.20" fill="#00bfff"/>
<rect x="623.03" y="327.60" width="5.96" height="14.40" fill="#00bfff"/>
<rect x="623.03" y="284.40" width="5.96" height="43.20" fill="#00688b"/>
<rect x="629.89" y="334.80" width="5.96" height="7.20" fill="#00bfff"/>
<rect x="629.89" y="327.60" width="5.96" height="7.20" fill="#00688b"/>
<rect x="629.89" y="320.40" width="5.96" height="7.20" fill="#00008b"/>
<rect x="636.76" y="327.60" width="5.96" height="14.40" fill="#00bfff"/>
<rect x="636.76" y="284.40" width="5.96" height="43.20" fill="#00688b"/>
<rect x="643.62" y="320.40" width="5.96" height="21.60" fill="#00bfff"/>
<rect x="643.62" y="277.20" width="5.96" height="43.20" fill="#00688b"/>
<rect x="650.48" y="334.80" width="5.96" height="7.20" fill="#00688b"/>
<rect x="657.35" y="320.40" width="5.96" height="21.60" fill="#00bfff"/>
<rect x="657.35" y="313.20" width="5.96" height="7.20" fill="#00688b"/>
<rect x="664.21" y="327.60" width="5.96" height="14.40" fill="#00bfff"/>
<rect x="664.21" y="320.40" width="5.96" height="7.20" fill="#00008b"/>
<rect x="671.07" y="327.60" width="5.96" height="14.40" fill="#00bfff"/>
<line x1="443.0" y1="226.0" x2="443.0" y2="342.0" stroke="#2b2b2b" stroke-width="1"/>
<line x1="438.4" y1="342.0" x2="679.0" y2="342.0" stroke="#2b2b2b" stroke-width="1"/>
<line x1="438.4" y1="306.0" x2="443.0" y2="306.0" stroke="#2b2b2b" stroke-width="1"/>
<line x1="438.4" y1="270.0" x2="443.0" y2="270.0" stroke="#2b2b2b" stroke-width="1"/>
<line x1="438.4" y1="234.0" x2="443.0" y2="234.0" stroke="#2b2b2b" stroke-width="1"/>
<text x="434.4" y="344.45" text-anchor="end" font-size="10.4" fill="#000" stroke="#000" >0</text>
<text x="434.4" y="308.45" text-anchor="end" font-size="10.4" fill="#000" stroke="#000" >5</text>
<text x="434.4" y="272.45" text-anchor="end" font-size="10.4" fill="#000" stroke="#000" > 0</text>
<text x="434.4" y="236.45" text-anchor="end" font-size="10.4" fill="#000" stroke="#000" > 5</text>
<line x1="461.5" y1="342.0" x2="461.5" y2="346.2" stroke="#2b2b2b" stroke-width="1"/>
<text x="461.5" y="359.45" text-anchor="middle" font-size="10.4" fill="#000" stroke="#000" > 5</text>
<line x1="495.815" y1="342.0" x2="495.815" y2="346.2" stroke="#2b2b2b" stroke-width="1"/>
<text x="495.815" y="359.45" text-anchor="middle" font-size="10.4" fill="#000" stroke="#000" >20</text>
<line x1="530.13" y1="342.0" x2="530.13" y2="346.2" stroke="#2b2b2b" stroke-width="1"/>
<text x="530.13" y="359.45" text-anchor="middle" font-size="10.4" fill="#000" stroke="#000" >25</text>
<line x1="564.445" y1="342.0" x2="564.445" y2="346.2" stroke="#2b2b2b" stroke-width="1"/>
<text x="564.445" y="359.45" text-anchor="middle" font-size="10.4" fill="#000" stroke="#000" >30</text>
<line x1="598.76" y1="342.0" x2="598.76" y2="346.2" stroke="#2b2b2b" stroke-width="1"/>
<text x="598.76" y="359.45" text-anchor="middle" font-size="10.4" fill="#000" stroke="#000" >35</text>
<line x1="633.075" y1="342.0" x2="633.075" y2="346.2" stroke="#2b2b2b" stroke-width="1"/>
<text x="633.075" y="359.45" text-anchor="middle" font-size="10.4" fill="#000" stroke="#000" >40</text>
<line x1="667.39" y1="342.0" x2="667.39" y2="346.2" stroke="#2b2b2b" stroke-width="1"/>
<text x="667.39" y="359.45" text-anchor="middle" font-size="10.4" fill="#000" stroke="#000" >45</text>
<text x="532.9" y="211.65" text-anchor="start" font-size="10.4" fill="#000" stroke="#000" >Meiosis II error</text>
<rect x="608.5" y="233.00" width="5" height="5" fill="#00bfff"/>
<text x="619.0" y="237.85" text-anchor="start" font-size="10.3" fill="#000" stroke="#000" >  crossover</text>
<rect x="608.5" y="244.20" width="5" height="5" fill="#00688b"/>
<text x="619.0" y="249.05" text-anchor="start" font-size="10.3" fill="#000" stroke="#000" >2 crossovers</text>
<rect x="608.5" y="255.40" width="5" height="5" fill="#00008b"/>
<text x="619.0" y="260.25" text-anchor="start" font-size="10.3" fill="#000" stroke="#000" >3 crossovers</text>
<text transform="translate(418.9,270.5) rotate(-90)" text-anchor="middle" font-size="10.4" fill="#000" stroke="#000">number of crossovers</text>
<text x="481.1" y="374.85" text-anchor="start" font-size="10.4" fill="#000" stroke="#000" >position on chromosome 2  (million bp)</text>
<path transform="translate(153.43,88.85) scale(0.005078,-0.005078)" d="M515,0L696,0L696,1409L530,1409L197,1180L197,1010L515,1237Z" fill="#000" stroke="#000" stroke-width="39.4"/>
<path transform="translate(553.64,107.65) scale(0.005078,-0.005078)" d="M515,0L696,0L696,1409L530,1409L197,1180L197,1010L515,1237Z" fill="#000" stroke="#000" stroke-width="39.4"/>
<path transform="translate(27.17,275.95) scale(0.005078,-0.005078)" d="M515,0L696,0L696,1409L530,1409L197,1180L197,1010L515,1237Z" fill="#fff" stroke="#fff" stroke-width="0.0"/>
<path transform="translate(141.64,288.85) scale(0.005078,-0.005078)" d="M515,0L696,0L696,1409L530,1409L197,1180L197,1010L515,1237Z" fill="#000" stroke="#000" stroke-width="39.4"/>
<path transform="translate(141.64,260.15) scale(0.005078,-0.005078)" d="M515,0L696,0L696,1409L530,1409L197,1180L197,1010L515,1237Z" fill="#000" stroke="#000" stroke-width="39.4"/>
<path transform="translate(172.72,359.85) scale(0.005078,-0.005078)" d="M515,0L696,0L696,1409L530,1409L197,1180L197,1010L515,1237Z" fill="#000" stroke="#000" stroke-width="39.4"/>
<path transform="translate(177.60,240.35) scale(0.005029,-0.005029)" d="M515,0L696,0L696,1409L530,1409L197,1180L197,1010L515,1237Z" fill="#000" stroke="#000" stroke-width="39.8"/>
<path transform="translate(309.86,374.65) scale(0.005078,-0.005078)" d="M515,0L696,0L696,1409L530,1409L197,1180L197,1010L515,1237Z" fill="#000" stroke="#000" stroke-width="39.4"/>
<path transform="translate(422.84,272.45) scale(0.005078,-0.005078)" d="M515,0L696,0L696,1409L530,1409L197,1180L197,1010L515,1237Z" fill="#000" stroke="#000" stroke-width="39.4"/>
<path transform="translate(422.84,236.45) scale(0.005078,-0.005078)" d="M515,0L696,0L696,1409L530,1409L197,1180L197,1010L515,1237Z" fill="#000" stroke="#000" stroke-width="39.4"/>
<path transform="translate(455.72,359.45) scale(0.005078,-0.005078)" d="M515,0L696,0L696,1409L530,1409L197,1180L197,1010L515,1237Z" fill="#000" stroke="#000" stroke-width="39.4"/>
<path transform="translate(619.00,237.85) scale(0.005029,-0.005029)" d="M515,0L696,0L696,1409L530,1409L197,1180L197,1010L515,1237Z" fill="#000" stroke="#000" stroke-width="39.8"/>
<path transform="translate(602.96,374.85) scale(0.005078,-0.005078)" d="M515,0L696,0L696,1409L530,1409L197,1180L197,1010L515,1237Z" fill="#000" stroke="#000" stroke-width="39.4"/>
</svg>
</body></html>
